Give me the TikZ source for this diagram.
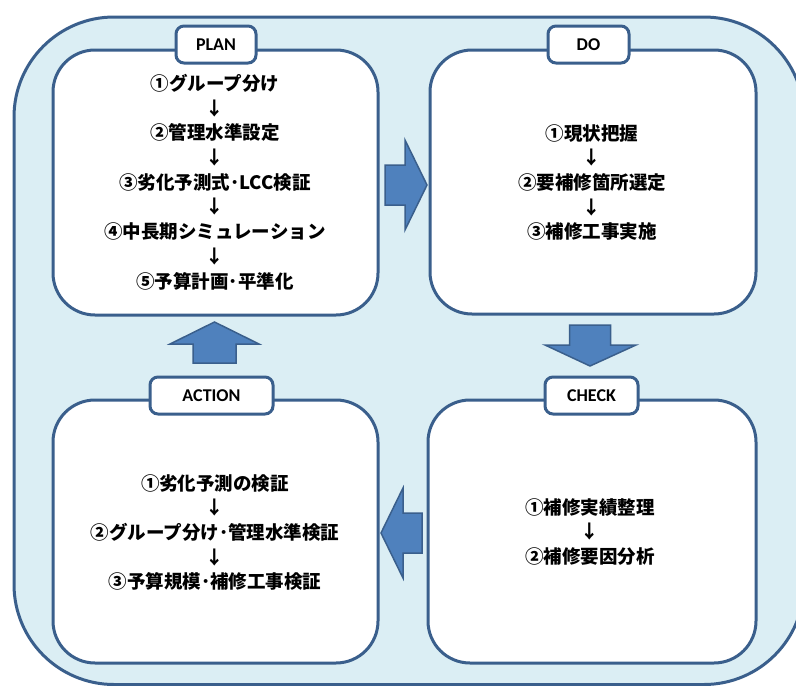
\documentclass[tikz,border=0pt]{standalone}
\usepackage{fontspec}
\newfontfamily\cjk{Noto Sans CJK JP}
\newfontfamily\lab{Carlito}
\definecolor{bordc}{HTML}{3A5F8C}
\definecolor{bgc}{HTML}{DBEEF4}
\definecolor{arrc}{HTML}{4F81BD}
\definecolor{arrb}{HTML}{3A5F8C}
\tikzset{
  outerbox/.style={draw=bordc, line width=3pt, fill=bgc, rounded corners=100pt},
  stagebox/.style={draw=bordc, line width=3pt, fill=white, rounded corners=42pt, inner sep=0pt},
  tagbox/.style={draw=bordc, line width=3pt, fill=white, rounded corners=8pt, inner sep=0pt, minimum height=37pt, font=\lab\bfseries\fontsize{18}{20}\selectfont},
  stagetext/.style={align=center, inner sep=0pt, font=\cjk\bfseries\fontsize{18.5}{24.7}\selectfont},
  blockarrow/.style={draw=arrb, line width=1.5pt, fill=arrc, line join=miter}
}
\begin{document}
\begin{tikzpicture}[x=1pt, y=-1pt]
\useasboundingbox (0,0) rectangle (796,686);
\clip (0,0) rectangle (796,686);
\draw[outerbox] (14,17) rectangle (804,684.5);
% stage boxes
\node[stagebox, minimum width=325pt, minimum height=265pt] (plan) at (215.5,182.5) {};
\node[stagebox, minimum width=326pt, minimum height=264pt] (do) at (593,182) {};
\node[stagebox, minimum width=325pt, minimum height=263pt] (action) at (215.5,531.5) {};
\node[stagebox, minimum width=328pt, minimum height=263pt] (check) at (592,531.5) {};
% tags
\node[tagbox, minimum width=80pt] (plantag) at (216,44.5) {PLAN};
\node[tagbox, minimum width=81pt] (dotag) at (588.5,44.5) {DO};
\node[tagbox, minimum width=123pt] (actiontag) at (211.5,395.5) {ACTION};
\node[tagbox, minimum width=93pt] (checktag) at (591.5,395.5) {CHECK};
% texts
\node[stagetext] (plantext) at (215,182) {①グループ分け\\↓\\②管理水準設定\\↓\\③劣化予測式･LCC検証\\↓\\④中長期シミュレーション\\↓\\⑤予算計画･平準化};
\node[stagetext] (dotext) at (592,182.5) {①現状把握\\↓\\②要補修箇所選定\\↓\\③補修工事実施};
\node[stagetext] (actiontext) at (215,532.5) {①劣化予測の検証\\↓\\②グループ分け･管理水準検証\\↓\\③予算規模･補修工事検証};
\node[stagetext] (checktext) at (590,532) {①補修実績整理\\↓\\②補修要因分析};
% block arrows
\draw[blockarrow] (385,165) -- (405,165) -- (405,140) -- (427,185) -- (405,230) -- (405,205) -- (385,205) -- cycle;
\draw[blockarrow] (569.5,325) -- (610.5,325) -- (610.5,345) -- (636,345) -- (590,366) -- (545,345) -- (569.5,345) -- cycle;
\draw[blockarrow] (422,513) -- (403,513) -- (403,488) -- (381,533) -- (403,578) -- (403,553) -- (422,553) -- cycle;
\draw[blockarrow] (193,363) -- (193,344) -- (170,344) -- (214.5,322) -- (259,344) -- (236,344) -- (236,363) -- cycle;
\end{tikzpicture}
\end{document}
